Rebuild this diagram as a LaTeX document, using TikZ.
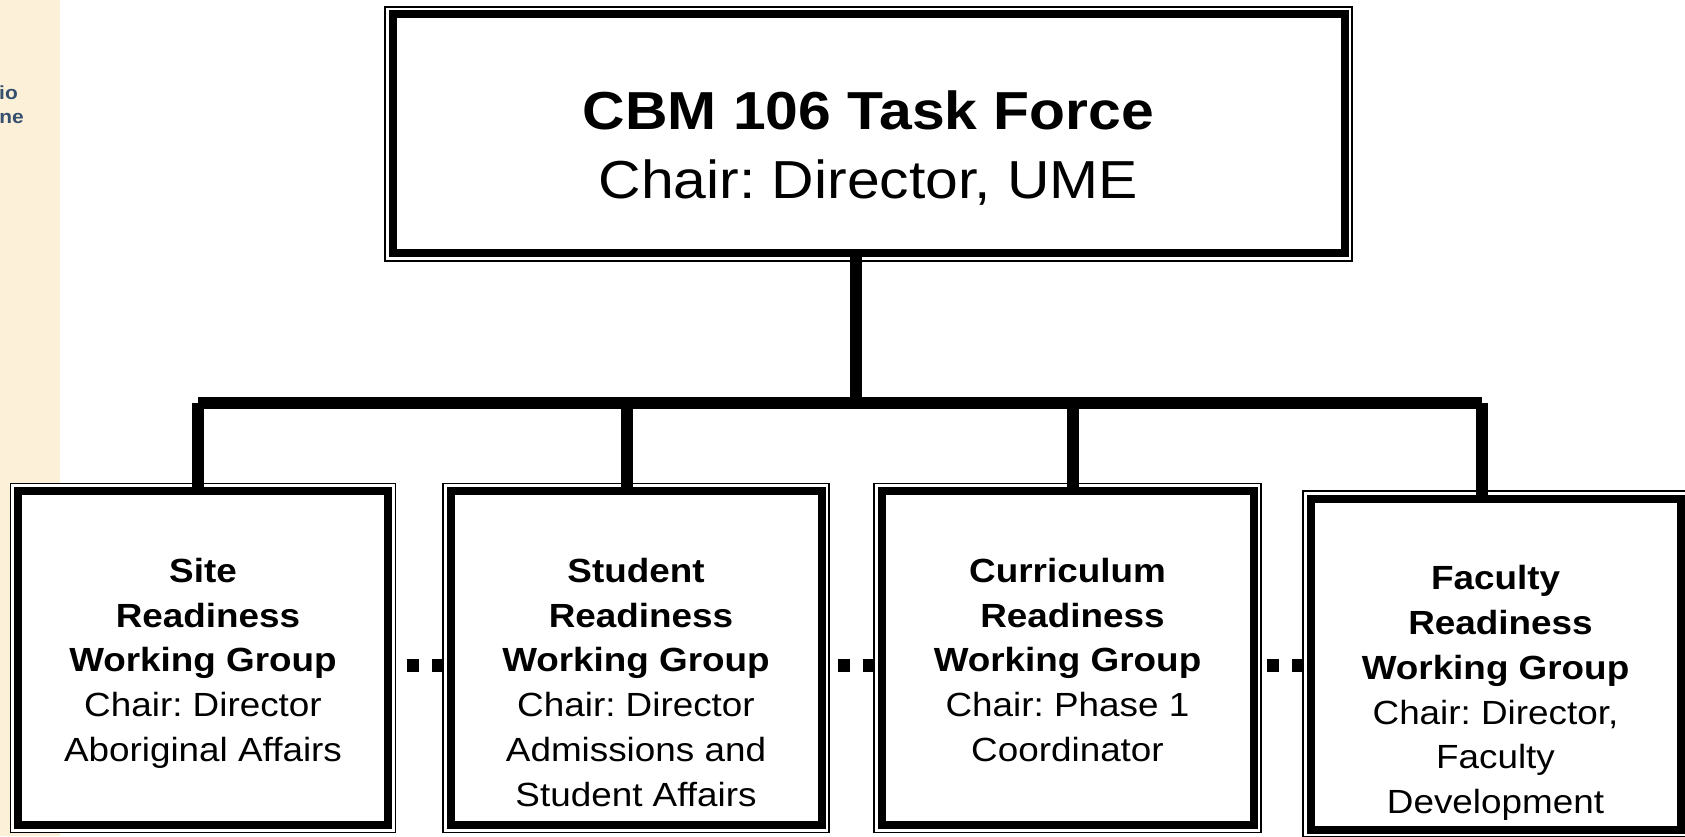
\documentclass[tikz,border=0pt]{standalone}
\usepackage{fontspec}
\setmainfont{Liberation Sans}[FakeStretch=1.1]
\usetikzlibrary{calc}
\definecolor{sidebar}{HTML}{FDF0D8}
\definecolor{sidetext}{HTML}{34506E}
\frenchspacing
\begin{document}
\begin{tikzpicture}[x=1pt,y=1pt,
  panel/.style={rectangle, draw=black, line width=1.2pt, fill=white, inner sep=0pt,
    path picture={\draw[line width=8pt]
      ([shift={(7.5pt,7.5pt)}]path picture bounding box.south west) rectangle
      ([shift={(-7.5pt,-7.5pt)}]path picture bounding box.north east);}},
  boxtext/.style={inner sep=0pt, align=center, anchor=north,
    font=\fontsize{33.5}{44.75}\selectfont},
  titletext/.style={inner sep=0pt, align=center, anchor=north,
    font=\fontsize{53.5}{69}\selectfont},
  sidetag/.style={inner sep=0pt, anchor=base east, text=sidetext,
    font=\fontsize{19}{23}\selectfont\bfseries},
  trunk/.style={line width=12pt, line cap=butt},
  dotlink/.style={line width=13pt, line cap=butt, dash pattern=on 12pt off 13pt}
]
\useasboundingbox (0,0) rectangle (1685,836);

% side strip of the slide
\fill[sidebar] (0,0) rectangle (60,836);
\node[sidetag] (s1) at (18,736) {io};
\node[sidetag] (s2) at (24,712) {ne};

% boxes
\node[panel, minimum width=967pt, minimum height=254pt] (top) at (868.5,702) {};
\node[panel, minimum width=385pt, minimum height=349pt] (b1) at (203,178) {};
\node[panel, minimum width=386pt, minimum height=349pt] (b2) at (636,178) {};
\node[panel, minimum width=387pt, minimum height=349pt] (b3) at (1067.5,178) {};
\node[panel, minimum width=385pt, minimum height=346pt] (b4) at (1495.5,172) {};

% texts
\node[titletext] (ttl) at ([yshift=-84pt]top.north)
  {\textbf{CBM 106 Task Force}\\Chair: Director, UME};
\node[boxtext] (t1) at ([yshift=-75pt]b1.north)
  {\textbf{Site}\\\textbf{\hspace*{10pt}Readiness}\\\textbf{Working Group}\\Chair: Director\\Aboriginal Affairs};
\node[boxtext] (t2) at ([yshift=-75pt]b2.north)
  {\textbf{Student}\\\textbf{\hspace*{10pt}Readiness}\\\textbf{Working Group}\\Chair: Director\\Admissions and\\Student Affairs};
\node[boxtext] (t3) at ([yshift=-75pt]b3.north)
  {\textbf{Curriculum}\\\textbf{\hspace*{10pt}Readiness}\\\textbf{Working Group}\\Chair: Phase 1\\Coordinator};
\node[boxtext] (t4) at ([yshift=-75pt]b4.north)
  {\textbf{Faculty}\\\textbf{\hspace*{10pt}Readiness}\\\textbf{Working Group}\\Chair: Director,\\Faculty\\Development};

% tree connectors
\coordinate (hub) at (856,433);
\coordinate (d1) at (198,433);
\coordinate (d2) at (627,433);
\coordinate (d3) at (1073,433);
\coordinate (d4) at (1482,433);
\draw[trunk] ([yshift=6pt]top.south -| hub) -- (hub);
\draw[trunk] (d1) -- (d4);
\draw[trunk] (d1) -- ([yshift=-6pt]b1.north -| d1);
\draw[trunk] (d2) -- ([yshift=-6pt]b2.north -| d2);
\draw[trunk] (d3) -- ([yshift=-6pt]b3.north -| d3);
\draw[trunk] (d4) -- ([yshift=-6pt]b4.north -| d4);

% dotted links between the working groups
\coordinate (dotrow) at (0,170.5);
\draw[dotlink] ([xshift=2pt]b2.west |- dotrow) -- (b1.east |- dotrow);
\draw[dotlink] ([xshift=2pt]b3.west |- dotrow) -- (b2.east |- dotrow);
\draw[dotlink] ([xshift=2pt]b4.west |- dotrow) -- (b3.east |- dotrow);
\end{tikzpicture}
\end{document}
